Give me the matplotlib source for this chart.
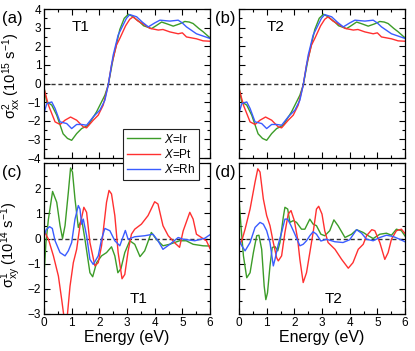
import matplotlib
matplotlib.use("Agg")
import matplotlib.pyplot as plt
from matplotlib.ticker import MultipleLocator

plt.rcParams['font.family'] = ['Liberation Sans', 'DejaVu Sans']
plt.rcParams['mathtext.fontset'] = 'custom'
plt.rcParams['mathtext.rm'] = 'Liberation Sans'
plt.rcParams['mathtext.it'] = 'Liberation Sans:italic'

# ---- sigma^2_xx (same in (a) and (b)) ----
xx_ir_e = [0, 0.1, 0.28, 0.46, 0.69, 0.85, 1.0, 1.18, 1.36, 1.6, 1.9, 2.2, 2.32, 2.5, 2.74, 2.9,
           3.05, 3.2, 3.46, 3.6, 3.89, 4.05, 4.25, 4.45, 4.67, 4.9, 5.09, 5.25, 5.39, 5.6, 5.75, 6.0]
xx_ir = [-0.2, -0.99, -1.16, -1.7, -2.7, -2.95, -3.05, -2.69, -2.42, -2.24, -1.52, -0.63, -0.09, 1.34, 2.9, 3.5,
         3.72, 3.6, 3.3, 3.1, 2.95, 3.1, 3.3, 3.2, 3.08, 3.2, 3.33, 3.3, 3.22, 2.95, 2.78, 2.45]
xx_pt_e = [0, 0.16, 0.4, 0.58, 0.76, 0.96, 1.18, 1.42, 1.54, 1.78, 1.96, 2.14, 2.32, 2.44, 2.62, 2.74,
           2.95, 3.1, 3.22, 3.4, 3.58, 3.83, 4.13, 4.3, 4.55, 4.85, 5.0, 5.15, 5.51, 5.75, 6.0]
xx_pt = [-0.27, -1.16, -2.06, -2.2, -1.97, -1.8, -1.97, -2.33, -2.38, -1.97, -1.7, -1.16, -0.09, 0.99, 2.06, 2.42,
         3.1, 3.45, 3.58, 3.35, 3.2, 2.96, 2.87, 2.9, 2.77, 2.67, 2.72, 2.5, 2.4, 2.29, 2.27]
xx_rh_e = [0, 0.1, 0.28, 0.4, 0.58, 0.82, 1.0, 1.18, 1.36, 1.54, 1.78, 2.02, 2.2, 2.32, 2.5, 2.68,
           2.98, 3.1, 3.35, 3.55, 3.77, 4.0, 4.19, 4.55, 4.85, 5.0, 5.15, 5.51, 6.0]
xx_rh = [-1.6, -1.08, -0.99, -1.34, -2.06, -2.15, -2.42, -2.2, -2.2, -2.24, -1.79, -1.43, -0.9, -0.09, 1.52, 2.6,
         3.5, 3.7, 3.58, 3.3, 3.04, 3.25, 3.4, 3.35, 3.4, 3.25, 3.04, 2.67, 2.42]

# ---- sigma^1_xy T1 (c) ----
c_ir_e = [0, 0.07, 0.16, 0.31, 0.46, 0.58, 0.67, 0.76, 0.88, 0.96, 1.03, 1.12, 1.24, 1.36, 1.48, 1.66, 1.76,
          1.9, 2.08, 2.26, 2.44, 2.56, 2.67, 2.78, 2.92, 3.1, 3.28, 3.47, 3.64, 3.88, 4.06, 4.3, 4.54,
          4.9, 5.14, 5.39, 5.75, 6.0]
c_ir = [-1.49, -0.16, 0.77, 1.87, 1.44, 0.51, 0.0, 0.51, 1.84, 2.8, 2.64, 1.57, 0.44, 0.77, -0.03, -1.36, -1.52,
        -0.96, -0.69, -0.56, -0.33, -0.69, -1.36, -1.2, -0.56, -0.09, -0.23, -0.72, -0.49, 0.24, -0.03, -0.29, -0.23,
        -0.09, -0.09, -0.23, -0.29, -0.3]
c_pt_e = [0, 0.16, 0.34, 0.52, 0.64, 0.72, 0.78, 0.84, 0.94, 1.06, 1.18, 1.3, 1.44, 1.54, 1.66, 1.84, 1.96,
          2.08, 2.26, 2.35, 2.44, 2.56, 2.68, 2.82, 2.92, 3.04, 3.16, 3.28, 3.52, 3.76, 4.0, 4.12, 4.3, 4.49,
          4.61, 4.75, 4.9, 5.03, 5.27, 5.39, 5.51, 5.69, 5.87, 6.0]
c_pt = [0.31, -0.03, -0.69, -1.49, -2.43, -3.1, -3.3, -3.1, -1.9, -0.96, -0.43, 0.51, 1.24, 1.04, -0.16, -1.09, -0.96,
        -0.29, 1.44, 1.91, 1.77, 0.91, -0.56, -1.6, -1.43, -0.5, 0.17, 0.37, 0.57, 0.91, 1.46, 1.37, 0.51, 0.11,
        -0.03, -0.2, -0.35, 0.3, 1.04, 0.77, 0.17, 0.04, -0.09, -0.4]
c_rh_e = [0, 0.08, 0.2, 0.3, 0.4, 0.58, 0.76, 0.88, 1.0, 1.12, 1.24, 1.3, 1.36, 1.42, 1.54, 1.66, 1.78, 1.96,
          2.08, 2.2, 2.38, 2.56, 2.74, 2.94, 3.04, 3.28, 3.64, 3.94, 4.12, 4.3, 4.55, 4.85, 5.03, 5.45, 5.81, 6.0]
c_rh = [0.1, 0.35, 0.47, 0.4, -0.09, -0.56, -0.69, -0.49, -0.16, 0.77, 1.31, 1.17, 0.57, 0.77, 0.11, -0.83, -1.03, -0.69,
        -0.03, 0.4, 0.31, -0.09, -0.29, 0.32, -0.03, 0.07, 0.11, 0.17, -0.09, -0.43, -0.23, 0.04, -0.03, -0.09, 0.01, 0.15]

# ---- sigma^1_xy T2 (d) ----
d_ir_e = [0, 0.07, 0.16, 0.28, 0.4, 0.52, 0.64, 0.72, 0.82, 0.91, 0.97, 1.03, 1.12, 1.2, 1.3, 1.4, 1.48, 1.6,
          1.66, 1.76, 1.84, 1.96, 2.08, 2.26, 2.38, 2.56, 2.68, 2.8, 2.96, 3.1, 3.28, 3.43, 3.58, 3.83, 4.07,
          4.25, 4.49, 4.67, 4.85, 5.09, 5.33, 5.51, 5.69, 5.87, 6.0]
d_ir = [1.57, 0.51, -0.69, -1.56, -1.36, -0.56, 0.11, 0.13, -0.43, -1.89, -2.43, -2.16, -1.09, -0.36, -0.32, -0.49,
        -0.16, 0.84, 1.24, 1.17, 0.64, 0.71, 0.64, 0.37, 0.37, 0.77, 0.57, 0.51, 0.17, 0.11, 0.31, 0.74, 0.51, 0.04,
        0.17, 0.35, 0.24, 0.11, 0.0, 0.17, 0.21, 0.13, 0.37, 0.31, 0.1]
d_pt_e = [0, 0.1, 0.22, 0.4, 0.58, 0.68, 0.76, 0.88, 1.0, 1.12, 1.24, 1.36, 1.42, 1.54, 1.66, 1.78, 1.88, 2.0,
          2.12, 2.2, 2.32, 2.44, 2.56, 2.68, 2.8, 2.88, 3.0, 3.1, 3.22, 3.47, 3.71, 3.95, 4.12, 4.31, 4.49, 4.61,
          4.8, 4.91, 5.09, 5.27, 5.39, 5.51, 5.69, 5.87, 6.0]
d_pt = [-0.29, -0.09, 0.37, 1.17, 2.24, 2.77, 2.64, 1.57, 0.91, 0.51, -0.16, -0.76, -0.89, -0.69, 0.24, 0.97, 1.11,
        0.71, -0.03, -0.83, -1.75, -1.36, -0.56, 0.24, 1.17, 1.28, 0.97, 0.3, -0.16, -0.43, -0.83, -1.18, -0.96,
        -0.43, -0.23, 0.11, 0.35, 0.31, -0.16, -0.83, -0.56, -0.03, 0.31, 0.37, 0.2]
d_rh_e = [0, 0.1, 0.22, 0.4, 0.58, 0.76, 0.88, 1.0, 1.12, 1.24, 1.3, 1.42, 1.54, 1.66, 1.76, 1.88, 2.02, 2.2,
          2.32, 2.44, 2.56, 2.68, 2.8, 2.96, 3.16, 3.47, 3.76, 4.0, 4.25, 4.43, 4.61, 4.85, 5.09, 5.33, 5.57, 5.81, 6.0]
d_rh = [-0.03, -0.29, -0.49, -0.16, 0.44, 0.64, 0.57, 0.31, -0.16, -1.09, -0.83, -0.23, 0.24, 0.77, 0.77, 0.51, 0.17,
        -0.29, -0.23, -0.09, 0.11, 0.27, 0.17, -0.1, -0.03, -0.13, -0.16, -0.05, 0.35, 0.21, -0.03, -0.09, 0.04, 0.13,
        0.08, -0.03, -0.13]

labels = ['$X$=Ir', '$X$=Pt', '$X$=Rh']
colors = ['#3c9c28', '#ff3030', '#3a5cff']

W, H = 415, 351
fig = plt.figure(figsize=(W / 100, H / 100), dpi=100)


def add_ax(x0, y0, x1, y1):
    return fig.add_axes([x0 / W, 1 - y1 / H, (x1 - x0) / W, (y1 - y0) / H])


ax_a = add_ax(44, 9, 210, 158)
ax_b = add_ax(239, 9, 405, 158)
ax_c = add_ax(44, 163, 210, 314)
ax_d = add_ax(239, 163, 405, 314)

xx_sets = [(xx_ir_e, xx_ir), (xx_pt_e, xx_pt), (xx_rh_e, xx_rh)]
c_sets = [(c_ir_e, c_ir), (c_pt_e, c_pt), (c_rh_e, c_rh)]
d_sets = [(d_ir_e, d_ir), (d_pt_e, d_pt), (d_rh_e, d_rh)]

handles = []
for ax, sets in [(ax_a, xx_sets), (ax_b, xx_sets), (ax_c, c_sets), (ax_d, d_sets)]:
    ax.axhline(0, color='#333333', ls=(0, (3, 2)), lw=1.0, zorder=1)
    hs = []
    for (e, v), col, lab in zip(sets, colors, labels):
        h, = ax.plot(e, v, color=col, lw=1.0, label=lab, zorder=2)
        hs.append(h)
    if ax is ax_a:
        handles = hs
    ax.set_xlim(0, 6)
    ax.xaxis.set_major_locator(MultipleLocator(1))
    ax.xaxis.set_minor_locator(MultipleLocator(0.5))
    ax.yaxis.set_major_locator(MultipleLocator(1))
    ax.yaxis.set_minor_locator(MultipleLocator(0.5))
    ax.tick_params(which='both', direction='in', top=True, right=True, labelsize=8.5, pad=2)
    ax.tick_params(which='major', length=4, width=0.8)
    ax.tick_params(which='minor', length=2, width=0.8)
    for sp in ax.spines.values():
        sp.set_linewidth(0.9)

for ax in (ax_a, ax_b):
    ax.set_ylim(-4, 4)
    ax.tick_params(labelbottom=False)
for ax in (ax_c, ax_d):
    ax.set_ylim(-3, 3)
    ax.set_xlabel('Energy (eV)', fontsize=11.5, labelpad=1)
ax_b.tick_params(labelleft=False)
ax_d.tick_params(labelleft=False)
ax_a.set_yticks([-4, -3, -2, -1, 0, 1, 2, 3, 4])
ax_c.set_yticks([-3, -2, -1, 0, 1, 2])

ax_a.set_ylabel(r'σ$^{2}_{\mathrm{xx}}$ (10$^{15}$ s$^{-1}$)', fontsize=10.5)
ax_c.set_ylabel(r'σ$^{1}_{\mathrm{xy}}$ (10$^{14}$ s$^{-1}$)', fontsize=10.5)
ax_a.yaxis.set_label_coords(-0.125, 0.55)
ax_c.yaxis.set_label_coords(-0.125, 0.46)

for ax, t in [(ax_a, 'T1'), (ax_b, 'T2')]:
    ax.text(0.22, 0.88, t, transform=ax.transAxes, fontsize=11, ha='center', va='center')
for ax, t in [(ax_c, 'T1'), (ax_d, 'T2')]:
    ax.text(0.57, 0.10, t, transform=ax.transAxes, fontsize=11, ha='center', va='center')

for (px, py), t in [((12, 18), '(a)'), ((225, 18), '(b)'), ((12, 172), '(c)'), ((225, 173), '(d)')]:
    fig.text(px / W, 1 - py / H, t, fontsize=12, ha='center', va='center')

leg = fig.legend(handles=handles, loc='upper left', bbox_to_anchor=(123 / W, 1 - 129 / H),
                 bbox_transform=fig.transFigure, fontsize=8.5, frameon=True, fancybox=False,
                 edgecolor='#222222', framealpha=1, handlelength=2.8, handletextpad=0.4,
                 labelspacing=0.2, borderpad=0.3, borderaxespad=0)
leg.get_frame().set_linewidth(0.8)

fig.savefig('out.png', dpi=100)
